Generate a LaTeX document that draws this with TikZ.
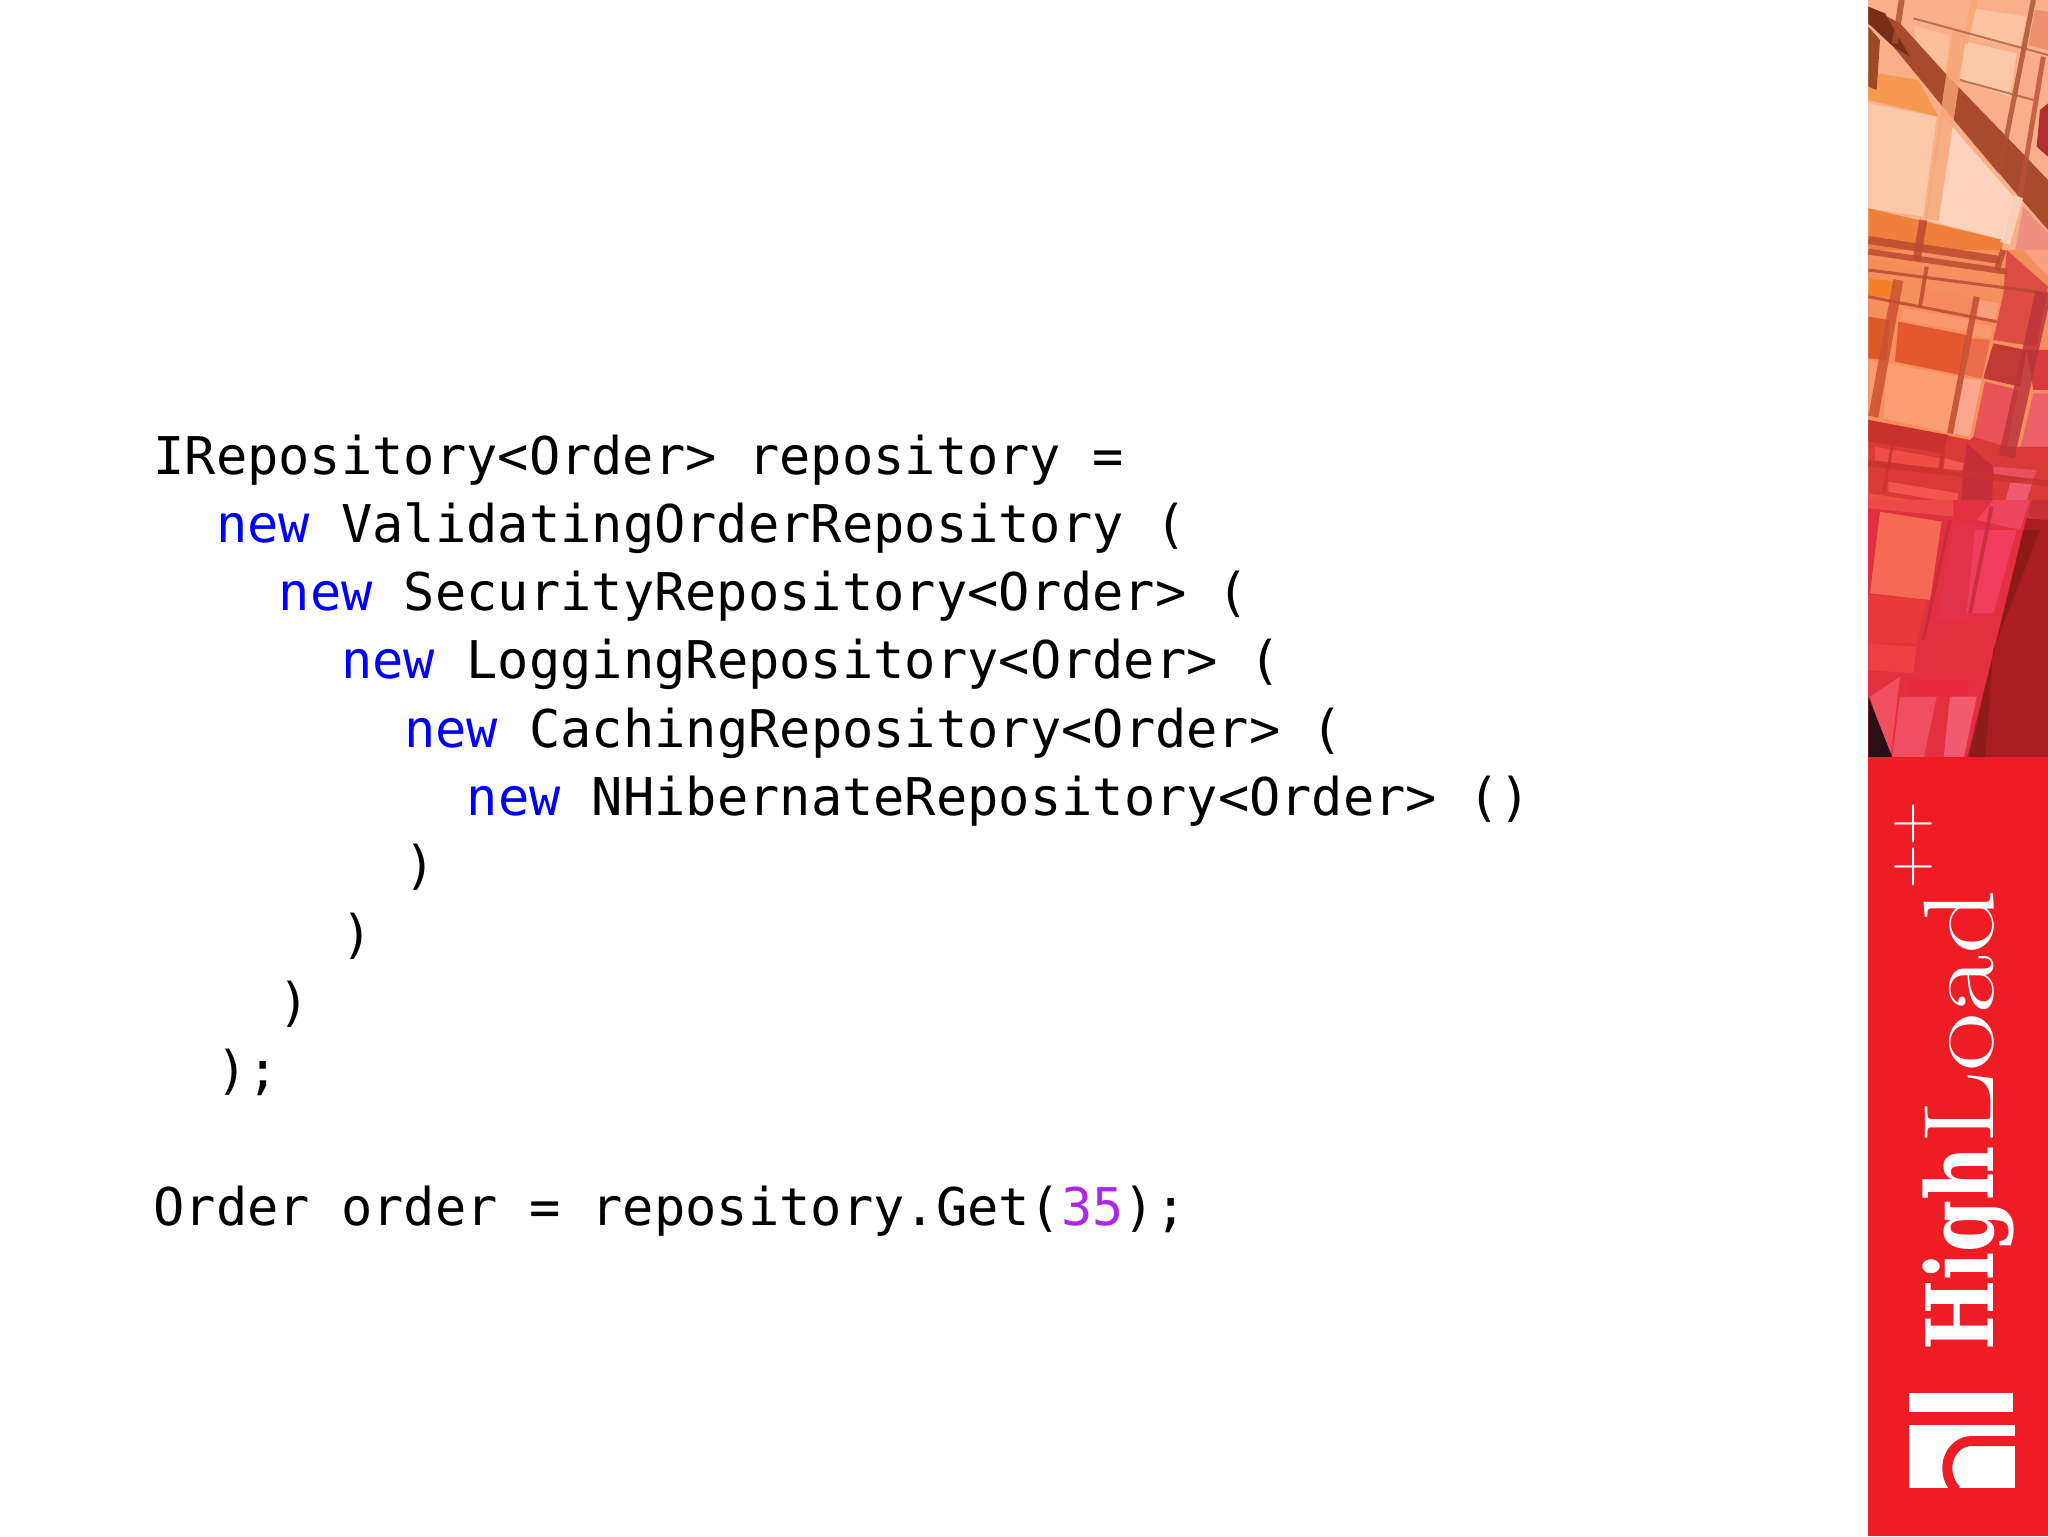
\documentclass[tikz,border=0pt]{standalone}
\usepackage{fontspec}
\newfontfamily\codefont{DejaVu Sans Mono}
\newfontfamily\highfont{DejaVu Serif}
\definecolor{kwblue}{HTML}{0000FF}
\definecolor{numpurple}{HTML}{B026E8}
\definecolor{logored}{HTML}{EE1C25}
\newcommand{\kw}[1]{\textcolor{kwblue}{#1}}
\newcommand{\num}[1]{\textcolor{numpurple}{#1}}
\tikzset{
  codeline/.style={anchor=base west,inner sep=0pt,font=\codefont\fontsize{26}{26}\selectfont},
  logotext/.style={anchor=base west,inner sep=0pt,rotate=90,text=white},
  strut/.style={line width=#1,opacity=.8},
  strip/.style={shift={(1860,#1)},scale=0.3333}
}
\begin{document}
\begin{tikzpicture}[x=0.5pt,y=-0.5pt]
  \useasboundingbox (0,0) rectangle (2048,1536);
  % code
  \foreach \n/\i/\t in{0/0/{IRepository<Order> repository =},
      1/2/{\kw{new} ValidatingOrderRepository (},
      2/4/{\kw{new} SecurityRepository<Order> (},
      3/6/{\kw{new} LoggingRepository<Order> (},
      4/8/{\kw{new} CachingRepository<Order> (},
      5/10/{\kw{new} NHibernateRepository<Order> ()},
      6/8/{)}, 7/6/{)}, 8/4/{)}, 9/2/{);},
      11/0/{Order order = repository.Get(\num{35});}}{
    \node[codeline](L\n) at (153+31.33*\i, 474+68.3*\n) {\t};
  }
  % photo strip
  \begin{scope}
    \clip (1868,0) rectangle (2048,757);
    \foreach \y/\c/\p in{
        0/F9B08A/{(0,0)--(564,0)--(564,780)--(0,780)},
        0/FBC3A0/{(340,25)--(500,50)--(480,140)--(330,110)},
        0/FBC8AA/{(315,125)--(470,160)--(450,290)--(295,240)},
        0/F9AC8C/{(480,170)--(550,180)--(520,300)--(460,290)},
        0/FBC09A/{(165,80)--(270,105)--(255,235)--(165,180)},
        0/EE8F6E/{(525,30)--(564,35)--(564,150)--(505,135)},
        0/F5994F/{(25,215)--(175,240)--(235,350)--(25,300)},
        0/FBC8A8/{(25,310)--(230,350)--(190,650)--(25,625)},
        0/FCD3BC/{(250,350)--(460,590)--(430,720)--(200,660)},
        0/F09080/{(490,620)--(564,700)--(564,780)--(460,780)},
        0/EE7F3C/{(25,625)--(430,720)--(420,780)--(25,780)},
        0/D9603F/{(240,310)--(430,420)--(415,520)},
        0/A84A2C/{(25,20)--(120,70)--(265,230)--(430,400)--(564,540)--(564,690)--(460,570)--(240,310)--(100,140)--(25,70)},
        0/7A2E1A/{(25,20)--(75,40)--(150,170)--(100,140)--(25,70)},
        0/9A4A26/{(25,80)--(60,120)--(50,270)--(25,260)},
        0/B03030/{(564,310)--(540,330)--(530,440)--(564,470)},
        250/F58F5E/{(0,0)--(564,0)--(564,780)--(0,780)},
        250/F58C58/{(25,25)--(190,55)--(190,85)--(25,60)},
        250/F58E62/{(200,60)--(425,110)--(420,140)--(195,90)},
        250/F18028/{(30,85)--(105,95)--(100,145)--(25,135)},
        250/F68A5E/{(190,115)--(340,145)--(330,195)--(180,165)},
        250/F9996F/{(130,175)--(330,210)--(320,245)--(125,210)},
        250/F8A07E/{(360,150)--(415,160)--(405,215)--(350,200)},
        250/F9996F/{(345,220)--(400,230)--(390,265)--(335,255)},
        250/DC5A2A/{(25,200)--(90,210)--(80,330)--(25,325)},
        250/E5582F/{(115,215)--(320,255)--(300,375)--(105,335)},
        250/EB6B4A/{(330,265)--(390,270)--(365,385)--(315,375)},
        250/FB9D73/{(80,340)--(295,380)--(265,548)--(70,505)},
        250/FBA68E/{(310,385)--(365,390)--(330,560)--(280,550)},
        250/FA9A70/{(25,330)--(70,340)--(40,500)--(25,505)},
        250/DC4C42/{(440,0)--(564,110)--(530,290)--(400,270)--(430,130)},
        250/C23A36/{(400,280)--(500,300)--(480,410)--(370,385)},
        250/E85258/{(375,395)--(475,420)--(440,590)--(340,560)},
        250/EE6068/{(520,430)--(564,430)--(564,590)--(480,600)},
        250/D83A3E/{(500,300)--(564,300)--(564,420)--(520,420)},
        250/F8A080/{(490,0)--(564,0)--(564,80)},
        250/D93A38/{(25,510)--(330,570)--(340,560)--(440,590)--(564,590)--(564,780)--(25,780)},
        250/C8322C/{(25,510)--(265,555)--(245,610)--(25,575)},
        250/EE4E46/{(45,590)--(245,625)--(240,660)--(45,630)},
        250/F05A50/{(255,625)--(310,640)--(305,670)--(250,660)},
        250/F2564E/{(85,695)--(295,730)--(290,760)--(85,725)},
        250/EE5048/{(25,730)--(280,770)--(280,780)--(25,780)},
        250/C42E38/{(320,580)--(400,650)--(395,780)--(300,780)},
        250/E85060/{(400,650)--(530,660)--(520,690)--(400,670)},
        250/F05A70/{(450,700)--(520,690)--(490,780)--(430,780)},
        500/E23040/{(0,0)--(564,0)--(564,780)--(0,780)},
        500/EC4A48/{(25,0)--(280,0)--(280,50)--(25,25)},
        500/F56A55/{(60,35)--(245,65)--(210,300)--(30,280)},
        500/E83A38/{(25,285)--(200,300)--(170,430)--(25,430)},
        500/EE3F42/{(25,430)--(170,440)--(160,520)--(25,510)},
        500/EF4460/{(400,0)--(510,0)--(480,90)--(350,60)},
        500/E0324A/{(280,80)--(400,70)--(330,360)--(230,360)},
        500/F23E5E/{(345,90)--(470,90)--(400,340)--(320,340)},
        500/E82A40/{(150,540)--(330,540)--(320,590)--(140,590)},
        500/F25060/{(30,590)--(120,530)--(90,780)},
        500/F04E62/{(120,590)--(230,590)--(190,780)--(95,780)},
        500/F25A70/{(270,590)--(350,590)--(310,780)--(250,780)},
        500/C63036/{(515,0)--(564,0)--(564,60)--(505,50)},
        500/A81C22/{(500,55)--(564,60)--(564,780)--(320,780)},
        500/8E1A1A/{(490,90)--(540,90)--(400,450)--(375,780)--(325,780)},
        500/2A1014/{(25,590)--(100,780)--(25,780)}}{
      \definecolor{cellcol}{HTML}{\c}
      \fill[strip=\y,cellcol] \p -- cycle;
    }
    \foreach \y/\c/\w/\p in{
        0/F7A577/7pt/{(300,90)--(215,660)},
        0/F7A577/3pt/{(345,0)--(315,130)},
        0/A85030/2.5pt/{(520,0)--(420,510)},
        0/B8503A/2.5pt/{(550,170)--(480,590)},
        0/FBD8C8/5pt/{(475,590)--(435,730)},
        0/A85030/3pt/{(125,0)--(105,130)},
        0/B06040/1pt/{(160,55)--(564,165)},
        0/B06040/1pt/{(300,240)--(520,300)},
        0/B8472E/4pt/{(190,660)--(170,780)},
        0/B8472E/4pt/{(25,720)--(420,780)},
        250/B8472E/3pt/{(25,5)--(440,65)},
        250/B8472E/1.5pt/{(25,60)--(564,130)},
        250/B8472E/1.5pt/{(25,140)--(410,215)},
        250/C8502E/5pt/{(115,90)--(40,500)},
        250/B8472E/2pt/{(200,50)--(180,170)},
        250/C04A30/3pt/{(350,140)--(270,550)},
        250/B8472E/3pt/{(430,0)--(410,60)},
        250/B8323A/8pt/{(550,130)--(440,620)},
        250/C8322C/1.5pt/{(100,570)--(70,730)},
        250/C8322C/2pt/{(255,560)--(240,660)},
        250/C8322C/3pt/{(25,640)--(564,700)},
        500/C42C3A/1.5pt/{(270,60)--(190,420)},
        500/C42C3A/2pt/{(395,20)--(330,340)}}{
      \definecolor{cellcol}{HTML}{\c}
      \draw[strip=\y,strut=\w,cellcol] \p;
    }
  \end{scope}
  % red block
  \fill[logored] (1868,757) rectangle (2048,1536);
  \node[logotext,font=\highfont\bfseries\fontsize{46.5}{46.5}\selectfont](High) at (1993,1351) {\scalebox{.8}[1]{High}};
  \node[logotext,font=\fontsize{50}{50}\selectfont](Load) at (1993,1145) {\scalebox{1.27}[1]{Load}};
  \node[logotext,font=\fontsize{30}{30}\selectfont](Plus) at (1928,889) {++};
  % logo mark
  \fill[white] (1909,1393) rectangle (2013,1412);
  \fill[white] (1909,1425) rectangle (2015,1488);
  \draw[logored,line width=5pt] (2017,1441) -- (1972,1441) .. controls (1950,1441) and (1938,1470) .. (1956,1490);
\end{tikzpicture}
\end{document}
